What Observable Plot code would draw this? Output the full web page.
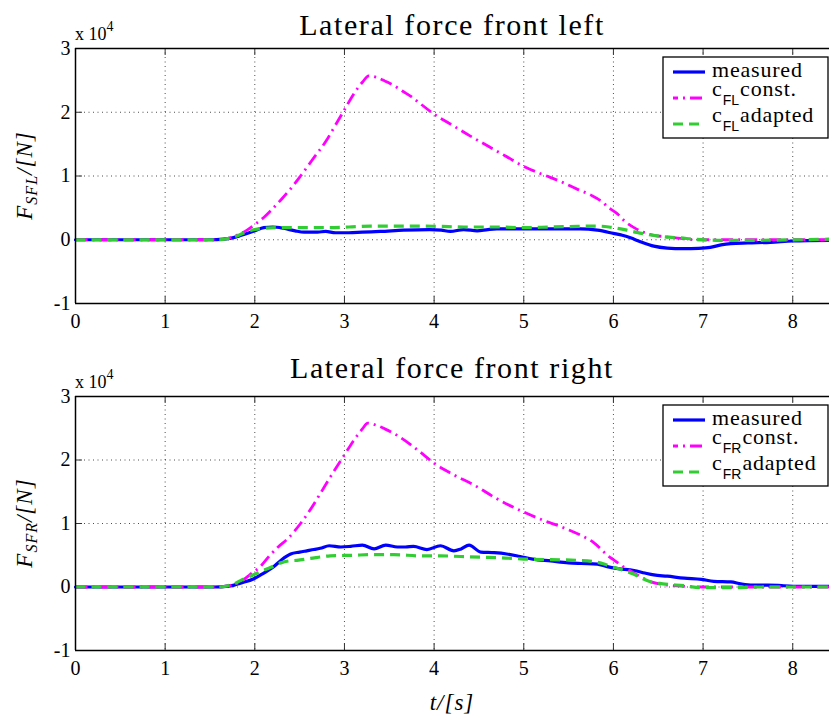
<!DOCTYPE html>
<html><head><meta charset="utf-8">
<script src="https://cdn.jsdelivr.net/npm/d3@7"></script>
<script src="https://cdn.jsdelivr.net/npm/@observablehq/plot@0.6"></script>
<style>body{margin:0;background:#fff} #chart svg{display:block}</style>
</head><body><div id="chart"></div>
<script>
// Values in units of 10^4 N, time in s
const xTicks = [0, 1, 2, 3, 4, 5, 6, 7, 8];
const yTicks = [-1, 0, 1, 2, 3];
const xDomain = [0, 8.41];
const yDomain = [-1, 3];
const seriesNames = ["measured", "const.", "adapted"];

const FL_measured = [[0,0],[1.0,0],[1.5,0],[1.65,0.01],[1.75,0.03],[1.85,0.07],[2.0,0.14],[2.1,0.19],[2.2,0.2],[2.32,0.18],[2.45,0.14],[2.55,0.12],[2.7,0.12],[2.79,0.13],[2.9,0.11],[3.05,0.11],[3.2,0.12],[3.4,0.13],[3.66,0.15],[3.95,0.16],[4.08,0.15],[4.18,0.13],[4.33,0.16],[4.48,0.14],[4.6,0.16],[4.7,0.17],[4.9,0.17],[5.07,0.17],[5.4,0.17],[5.63,0.17],[5.82,0.15],[6.0,0.1],[6.1,0.07],[6.19,0.03],[6.3,-0.03],[6.45,-0.1],[6.6,-0.13],[6.78,-0.14],[6.95,-0.135],[7.08,-0.12],[7.2,-0.08],[7.31,-0.06],[7.5,-0.05],[7.75,-0.04],[8.0,-0.02],[8.41,-0.01]];
const FL_const = [[0,0],[1.6,0],[1.7,0.02],[1.8,0.07],[1.9,0.14],[2.0,0.24],[2.1,0.35],[2.18,0.46],[2.3,0.64],[2.4,0.8],[2.51,1.0],[2.65,1.27],[2.8,1.56],[2.9,1.8],[3.0,2.04],[3.1,2.28],[3.2,2.47],[3.27,2.57],[3.35,2.55],[3.45,2.49],[3.55,2.42],[3.65,2.33],[3.75,2.24],[3.85,2.13],[4.0,1.97],[4.2,1.8],[4.4,1.63],[4.6,1.47],[4.8,1.31],[5.0,1.15],[5.2,1.03],[5.4,0.92],[5.6,0.79],[5.75,0.7],[5.87,0.6],[5.95,0.5],[6.05,0.4],[6.12,0.3],[6.23,0.19],[6.34,0.115],[6.45,0.07],[6.56,0.05],[6.75,0.02],[6.93,0.0],[7.2,0.0],[7.5,0.0],[8.0,0.0],[8.41,0.0]];
const FL_adapted = [[0,0],[1.6,0],[1.7,0.02],[1.8,0.06],[1.9,0.12],[2.0,0.16],[2.1,0.18],[2.28,0.19],[2.55,0.19],[2.84,0.19],[3.05,0.2],[3.29,0.215],[3.6,0.215],[3.81,0.215],[4.05,0.21],[4.33,0.2],[4.7,0.2],[5.0,0.19],[5.3,0.2],[5.6,0.21],[5.82,0.215],[5.95,0.2],[6.04,0.18],[6.15,0.15],[6.26,0.115],[6.37,0.085],[6.49,0.06],[6.62,0.04],[6.75,0.03],[6.88,0.01],[7.0,0.0],[7.2,-0.01],[7.5,-0.01],[7.8,-0.005],[8.1,0.0],[8.41,0.01]];

const FR_measured = [[0,0],[1.0,0],[1.55,0],[1.68,0.01],[1.77,0.03],[1.84,0.06],[1.99,0.13],[2.1,0.22],[2.21,0.32],[2.3,0.43],[2.4,0.52],[2.5,0.55],[2.58,0.57],[2.66,0.59],[2.73,0.61],[2.83,0.65],[2.96,0.63],[3.07,0.64],[3.2,0.66],[3.33,0.6],[3.46,0.66],[3.59,0.63],[3.68,0.63],[3.77,0.64],[3.92,0.59],[4.07,0.65],[4.22,0.57],[4.3,0.6],[4.39,0.66],[4.52,0.55],[4.67,0.54],[4.81,0.52],[4.96,0.48],[5.1,0.44],[5.3,0.41],[5.5,0.38],[5.64,0.37],[5.82,0.36],[5.93,0.32],[6.05,0.29],[6.23,0.26],[6.35,0.22],[6.45,0.19],[6.6,0.17],[6.79,0.14],[6.98,0.12],[7.12,0.09],[7.31,0.08],[7.42,0.05],[7.55,0.03],[7.72,0.03],[7.9,0.02],[8.1,0.01],[8.41,0.01]];
const FR_const = [[0,0],[1.6,0],[1.7,0.02],[1.77,0.04],[1.86,0.1],[1.95,0.2],[2.06,0.32],[2.17,0.5],[2.26,0.63],[2.36,0.75],[2.51,1.0],[2.62,1.22],[2.73,1.47],[2.85,1.75],[2.99,2.06],[3.1,2.3],[3.2,2.49],[3.26,2.58],[3.35,2.55],[3.45,2.49],[3.55,2.42],[3.63,2.35],[3.75,2.23],[3.85,2.12],[4.0,1.95],[4.2,1.78],[4.44,1.61],[4.7,1.39],[5.0,1.18],[5.2,1.06],[5.45,0.93],[5.67,0.79],[5.78,0.7],[5.86,0.6],[5.93,0.5],[6.0,0.43],[6.1,0.33],[6.23,0.22],[6.33,0.14],[6.42,0.08],[6.55,0.04],[6.79,0.01],[7.0,0.0],[7.3,0.0],[7.8,0.0],[8.41,0.0]];
const FR_adapted = [[0,0],[1.6,0],[1.7,0.02],[1.77,0.05],[1.84,0.1],[1.95,0.17],[2.06,0.24],[2.18,0.31],[2.29,0.38],[2.38,0.41],[2.47,0.42],[2.62,0.45],[2.84,0.49],[3.1,0.5],[3.3,0.51],[3.55,0.51],[3.85,0.49],[4.07,0.49],[4.3,0.48],[4.52,0.47],[4.75,0.46],[5.0,0.44],[5.3,0.43],[5.6,0.42],[5.82,0.39],[5.92,0.35],[6.0,0.31],[6.1,0.27],[6.23,0.2],[6.33,0.13],[6.42,0.08],[6.55,0.05],[6.79,0.02],[6.98,-0.01],[7.2,-0.01],[7.35,-0.01],[7.6,0.0],[8.0,0.0],[8.41,0.0]];

const colors = {measured: "#0000ff", constant: "#ff00ff", adapted: "#32cd32"};
const dashConst = "12,5,2,5";
const dashAdapt = "10,6";
const serif = "'Liberation Serif', 'Times New Roman', serif";
const sans = "'Liberation Sans', Arial, sans-serif";
const chart = document.getElementById("chart");

function panel(cfg) {
  const W = 829, H = 361, mL = 75, mR = 0;
  const frameH = H - cfg.mt - cfg.mb;
  const frameW = W - mL - mR;
  const svg = Plot.plot({
    width: W, height: H,
    marginLeft: mL, marginRight: mR, marginTop: cfg.mt, marginBottom: cfg.mb,
    style: {fontFamily: serif, fontSize: "20px", background: "#fff", color: "#000", overflow: "visible"},
    x: {domain: xDomain},
    y: {domain: yDomain},
    marks: [
      Plot.gridX(xTicks, {stroke: "#000", strokeOpacity: 0.7, strokeWidth: 1, strokeDasharray: "1,3.5"}),
      Plot.gridY(yTicks, {stroke: "#000", strokeOpacity: 0.7, strokeWidth: 1, strokeDasharray: "1,3.5"}),
      Plot.ruleX(xTicks, {insetTop: frameH - 7, stroke: "#333"}),
      Plot.ruleX(xTicks, {insetBottom: frameH - 7, stroke: "#333"}),
      Plot.ruleY(yTicks, {insetRight: frameW - 7, stroke: "#333"}),
      Plot.line(cfg.measured, {x: d => d[0], y: d => d[1], stroke: colors.measured, strokeWidth: 3.2, curve: "monotone-x"}),
      Plot.line(cfg.constant, {x: d => d[0], y: d => d[1], stroke: colors.constant, strokeWidth: 2.8, strokeDasharray: dashConst, strokeLinecap: "butt", curve: "monotone-x"}),
      Plot.line(cfg.adapted, {x: d => d[0], y: d => d[1], stroke: colors.adapted, strokeWidth: 3.2, strokeDasharray: dashAdapt, strokeLinecap: "butt", curve: "monotone-x"}),
      Plot.ruleY(yDomain, {stroke: "#000", strokeWidth: 1.5}),
      Plot.ruleX([xDomain[0]], {stroke: "#000", strokeWidth: 1.5}),
      Plot.axisX({ticks: xTicks, tickSize: 0, tickPadding: 10, label: null, tickFormat: d => String(d), fill: "#000"}),
      Plot.axisY({ticks: yTicks, tickSize: 0, tickPadding: 5, label: null, tickFormat: d => String(d), fill: "#000"})
    ]
  });
  chart.appendChild(svg);
  const s = d3.select(svg);
  const top = cfg.mt, bottom = H - cfg.mb;
  const cx = mL + frameW / 2;

  // Title
  s.append("text").attr("x", cx).attr("y", top - cfg.titleGap)
    .attr("text-anchor", "middle").attr("font-family", serif).attr("font-size", 30)
    .attr("letter-spacing", 1.6).attr("fill", "#000").text(cfg.title);

  // x 10^4
  const ex = s.append("text").attr("x", mL).attr("y", top - 8).attr("text-anchor", "start")
    .attr("font-family", serif).attr("font-size", 18).attr("fill", "#000");
  ex.append("tspan").text("x 10");
  ex.append("tspan").attr("font-size", 14).attr("dy", -9).text("4");

  // y label
  const yl = s.append("text").attr("transform", `translate(32,${(top + bottom) / 2}) rotate(-90)`)
    .attr("text-anchor", "middle").attr("font-family", serif).attr("font-style", "italic")
    .attr("font-size", 23).attr("letter-spacing", 1).attr("fill", "#000");
  yl.append("tspan").text("F");
  yl.append("tspan").attr("font-size", 16).attr("dy", 5).text("S" + cfg.sub);
  yl.append("tspan").attr("dy", -5).text("/[N]");

  // x label
  if (cfg.xLabel) {
    s.append("text").attr("x", cx).attr("y", bottom + 60)
      .attr("text-anchor", "middle").attr("font-family", serif).attr("font-style", "italic")
      .attr("font-size", 23).attr("letter-spacing", 1).attr("fill", "#000").text("t/[s]");
  }

  // Legend
  const lx = 663, ly = top + 9, lw = 165, lh = 81;
  const g = s.append("g").attr("text-anchor", "start");
  g.append("rect").attr("x", lx).attr("y", ly).attr("width", lw).attr("height", lh)
    .attr("fill", "#fff").attr("stroke", "#000").attr("stroke-width", 1.3);
  const rows = [
    {y: 15, color: colors.measured, dash: null, w: 3.2, label: seriesNames[0], c: false},
    {y: 41, color: colors.constant, dash: dashConst, w: 2.8, label: seriesNames[1], c: true},
    {y: 67, color: colors.adapted, dash: dashAdapt, w: 3.2, label: seriesNames[2], c: true}
  ];
  rows.forEach(r => {
    const ln = g.append("line").attr("x1", 673).attr("x2", 705).attr("y1", ly + r.y).attr("y2", ly + r.y)
      .attr("stroke", r.color).attr("stroke-width", r.w);
    if (r.dash) ln.attr("stroke-dasharray", r.dash).attr("stroke-dashoffset", r.dash === dashConst ? 7 : 0);
    const mk = (x, y, str, fam, size, ls) => g.append("text").attr("x", x).attr("y", y)
      .attr("text-anchor", "start").attr("font-family", fam).attr("font-size", size)
      .attr("letter-spacing", ls).attr("fill", "#000").text(str);
    if (r.c) {
      const base = ly + r.y - 2;
      const c = mk(712, base, "c", serif, 22, 0);
      const cw = c.node().getComputedTextLength();
      const sb = mk(712 + cw + 1, base + 9, cfg.sub, sans, 14, 0);
      const sw = sb.node().getComputedTextLength();
      mk(712 + cw + sw + 2, base, r.label, serif, 22, 0.8);
    } else {
      mk(712, ly + r.y + 5, r.label, serif, 22, 0.8);
    }
  });
}

panel({title: "Lateral force front left", sub: "FL", mt: 48, mb: 58, titleGap: 13,
  measured: FL_measured, constant: FL_const, adapted: FL_adapted, xLabel: false});
panel({title: "Lateral force front right", sub: "FR", mt: 35, mb: 72, titleGap: 18,
  measured: FR_measured, constant: FR_const, adapted: FR_adapted, xLabel: true});
</script></body></html>
